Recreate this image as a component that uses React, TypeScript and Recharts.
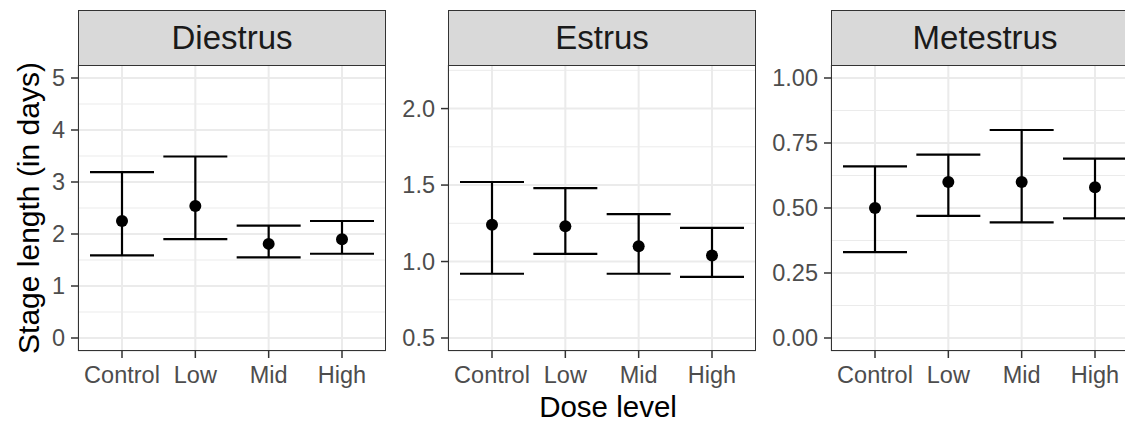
import React from 'react';
import { ScatterChart, Scatter, XAxis, YAxis, CartesianGrid, ErrorBar, ReferenceLine } from 'recharts';

const doseLevels = ['Control', 'Low', 'Mid', 'High'];

const diestrusMean = [2.25, 2.54, 1.81, 1.9];
const diestrusLower = [1.59, 1.9, 1.55, 1.62];
const diestrusUpper = [3.19, 3.49, 2.16, 2.25];

const estrusMean = [1.24, 1.23, 1.1, 1.04];
const estrusLower = [0.92, 1.05, 0.92, 0.9];
const estrusUpper = [1.52, 1.48, 1.31, 1.22];

const metestrusMean = [0.5, 0.6, 0.6, 0.58];
const metestrusLower = [0.33, 0.47, 0.445, 0.46];
const metestrusUpper = [0.66, 0.705, 0.8, 0.69];

const FONT = '"Liberation Sans", Arial, sans-serif';
const PLOT_TOP = 65;
const PLOT_BOTTOM = 351;
const Y_AXIS_W = 78;
const PLOT_W = 308;

interface PanelProps {
  left: number;
  title: string;
  mean: number[];
  lower: number[];
  upper: number[];
  domain: [number, number];
  majors: number[];
  minors: number[];
  digits: number;
}

const Panel: React.FC<PanelProps> = ({ left, title, mean, lower, upper, domain, majors, minors, digits }) => {
  const data = doseLevels.map((dose, i) => ({
    x: i + 1,
    dose,
    mean: mean[i],
    err: [mean[i] - lower[i], upper[i] - mean[i]],
  }));

  return (
    <>
      <div style={{ position: 'absolute', left, top: 0 }}>
        <ScatterChart
          width={Y_AXIS_W + PLOT_W}
          height={422}
          margin={{ top: PLOT_TOP, right: 0, bottom: 0, left: 0 }}
        >
          <CartesianGrid stroke="#EBEBEB" strokeWidth={2} />
          {minors.map((v) => (
            <ReferenceLine key={v} y={v} stroke="#EBEBEB" strokeWidth={1} />
          ))}
          <XAxis
            type="number"
            dataKey="x"
            domain={[0.4, 4.6]}
            ticks={[1, 2, 3, 4]}
            interval={0}
            allowDataOverflow
            height={422 - PLOT_BOTTOM}
            tickFormatter={(v) => doseLevels[v - 1]}
            axisLine={false}
            tickLine={{ stroke: '#333', strokeWidth: 1.5 }}
            tickSize={7}
            tickMargin={8}
            tick={{ fill: '#4D4D4D', fontSize: 23.5, fontFamily: FONT }}
          />
          <YAxis
            type="number"
            dataKey="mean"
            domain={domain}
            ticks={majors}
            interval={0}
            allowDataOverflow
            width={Y_AXIS_W}
            tickFormatter={(v) => Number(v).toFixed(digits)}
            axisLine={false}
            tickLine={{ stroke: '#333', strokeWidth: 1.5 }}
            tickSize={7}
            tickMargin={6}
            tick={{ fill: '#4D4D4D', fontSize: 23.5, fontFamily: FONT }}
          />
          <Scatter
            data={data}
            isAnimationActive={false}
            shape={(p: any) => <circle cx={p.cx} cy={p.cy} r={6} fill="#000" />}
          >
            <ErrorBar dataKey="err" direction="y" width={32} stroke="#000" strokeWidth={2.2} isAnimationActive={false} />
          </Scatter>
        </ScatterChart>
      </div>
      <div
        style={{
          position: 'absolute',
          left: left + Y_AXIS_W,
          top: PLOT_TOP,
          width: PLOT_W,
          height: PLOT_BOTTOM - PLOT_TOP,
          border: '1.5px solid #333',
          boxSizing: 'border-box',
          pointerEvents: 'none',
        }}
      />
      <div
        style={{
          position: 'absolute',
          left: left + Y_AXIS_W,
          top: 10,
          width: PLOT_W,
          height: PLOT_TOP - 10 + 1,
          background: '#D9D9D9',
          border: '1.5px solid #333',
          boxSizing: 'border-box',
          display: 'flex',
          alignItems: 'center',
          justifyContent: 'center',
          fontFamily: FONT,
          fontSize: 33,
          color: '#1A1A1A',
        }}
      >
        {title}
      </div>
    </>
  );
};

export default function App() {
  return (
    <div
      style={{
        position: 'absolute',
        left: 0,
        top: 0,
        width: 1125,
        height: 422,
        overflow: 'hidden',
        background: '#fff',
      }}
    >
      <Panel
        left={0}
        title="Diestrus"
        mean={diestrusMean}
        lower={diestrusLower}
        upper={diestrusUpper}
        domain={[-0.25, 5.25]}
        majors={[0, 1, 2, 3, 4, 5]}
        minors={[0.5, 1.5, 2.5, 3.5, 4.5]}
        digits={0}
      />
      <Panel
        left={370}
        title="Estrus"
        mean={estrusMean}
        lower={estrusLower}
        upper={estrusUpper}
        domain={[0.415, 2.285]}
        majors={[0.5, 1, 1.5, 2]}
        minors={[0.75, 1.25, 1.75, 2.25]}
        digits={1}
      />
      <Panel
        left={753}
        title="Metestrus"
        mean={metestrusMean}
        lower={metestrusLower}
        upper={metestrusUpper}
        domain={[-0.05, 1.05]}
        majors={[0, 0.25, 0.5, 0.75, 1]}
        minors={[0.125, 0.375, 0.625, 0.875]}
        digits={2}
      />
      <div
        style={{
          position: 'absolute',
          left: 29,
          top: 208,
          transform: 'translate(-50%, -50%) rotate(-90deg)',
          whiteSpace: 'nowrap',
          fontFamily: FONT,
          fontSize: 30,
          color: '#000',
        }}
      >
        Stage length (in days)
      </div>
      <div
        style={{
          position: 'absolute',
          left: 608,
          top: 392,
          transform: 'translateX(-50%)',
          whiteSpace: 'nowrap',
          fontFamily: FONT,
          fontSize: 29.5,
          lineHeight: 1,
          color: '#000',
        }}
      >
        Dose level
      </div>
    </div>
  );
}
